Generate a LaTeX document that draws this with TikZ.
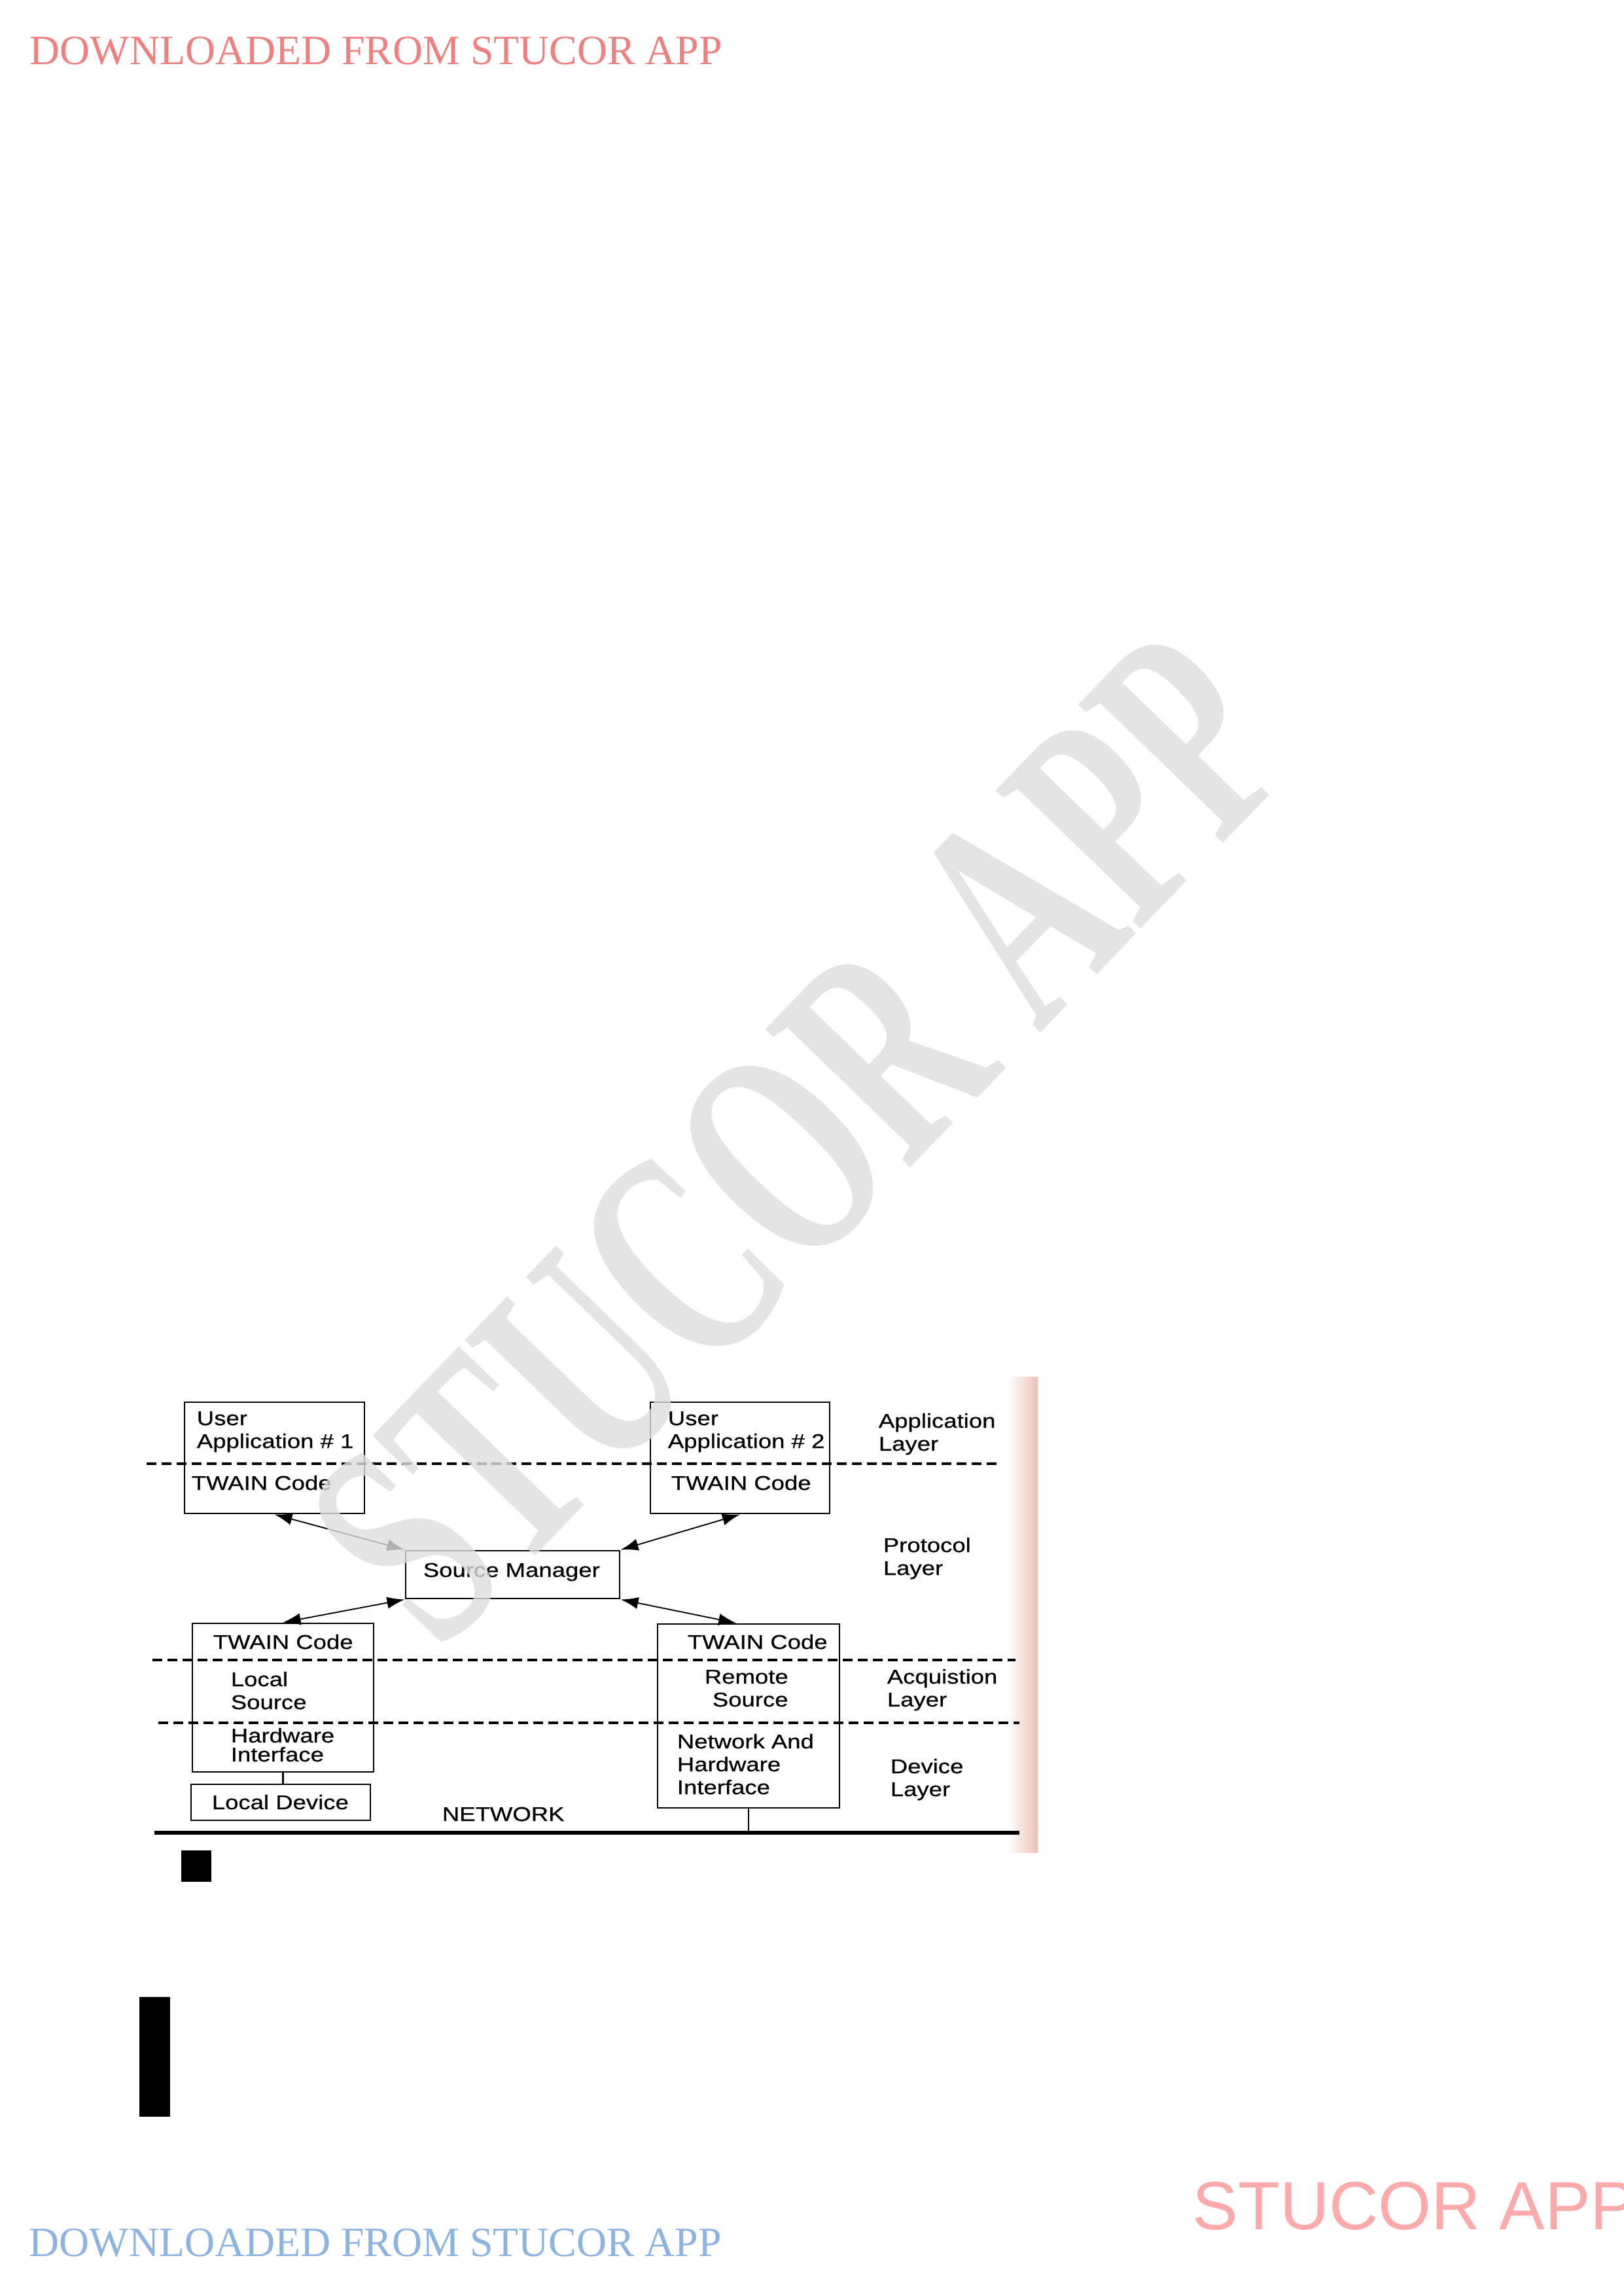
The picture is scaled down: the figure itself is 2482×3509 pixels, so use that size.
\documentclass[tikz,border=0pt]{standalone}
\usepackage{fontspec}
\setmainfont{Liberation Sans}
\newfontfamily\twfont{Liberation Sans}[FakeStretch=1.2,FakeBold=0.6]
\newfontfamily\hdfont{Liberation Serif}
\usetikzlibrary{arrows.meta,fit}
\definecolor{hdred}{RGB}{240,128,128}
\definecolor{hdblue}{RGB}{141,179,226}
\definecolor{brandpink}{RGB}{255,170,170}
\definecolor{stripe}{RGB}{236,192,182}

\begin{document}
\begin{tikzpicture}[x=0.23984pt,y=-0.23984pt,
    twbox/.style={draw,line width=0.7pt,inner sep=0pt},
    twtext/.style={anchor=base west,inner sep=0pt,font=\twfont\fontsize{7.3}{8.4}\selectfont},
    sepline/.style={line width=0.9pt,dash pattern=on 3.6pt off 1.9pt},
    twarrow/.style={{Latex[length=6.5pt,width=4.4pt]}-{Latex[length=6.5pt,width=4.4pt]},line width=0.45pt}]
    \useasboundingbox (0,0) rectangle (2482,3509);
    \fill[white] (0,0) rectangle (2482,3509);

    \node[anchor=base west,inner sep=0pt,font=\hdfont\fontsize{15.3}{18}\selectfont,text=hdred] (head) at (45,98) {DOWNLOADED FROM STUCOR APP};
    \node[anchor=base west,inner sep=0pt,font=\hdfont\fontsize{15.3}{18}\selectfont,text=hdblue] (foot) at (44,3448) {DOWNLOADED FROM STUCOR APP};
    \node[anchor=base west,inner sep=0pt,font=\fontsize{25}{30}\selectfont,text=brandpink] (brand) at (1822,3407) {STUCOR APP};

    \shade[left color=white,right color=stripe] (1540,2104) rectangle (1586,2831);

    \draw[sepline] (224,2237) -- (1530,2237);
    \draw[sepline] (233,2537) -- (1552,2537);
    \draw[sepline] (242,2633) -- (1558,2633);

    \node[twbox,fit={(282,2143) (557,2313)}] (app1) {};
    \node[twbox,fit={(994,2143) (1268,2313)}] (app2) {};
    \node[twbox,fit={(620,2370) (947,2443)}] (sm) {};
    \node[twbox,fit={(294,2481) (571,2708)}] (loc) {};
    \node[twbox,fit={(292,2727) (566,2782)}] (dev) {};
    \node[twbox,fit={(1005,2482) (1283,2763)}] (rem) {};

    \node[twtext] (app1a) at (300,2178) {User};
    \node[twtext] (app1b) at (300,2213) {Application \# 1};
    \node[twtext] (app1c) at (292,2277) {TWAIN Code};
    \node[twtext] (app2a) at (1020,2178) {User};
    \node[twtext] (app2b) at (1020,2213) {Application \# 2};
    \node[twtext] (app2c) at (1025,2277) {TWAIN Code};
    \node[twtext] (smtext) at (646,2410) {Source Manager};
    \node[twtext] (loca) at (325,2520) {TWAIN Code};
    \node[twtext] (locb) at (352,2577) {Local};
    \node[twtext] (locc) at (352,2612) {Source};
    \node[twtext] (locd) at (352,2663) {Hardware};
    \node[twtext] (loce) at (352,2692) {Interface};
    \node[twtext] (devtext) at (323,2765) {Local Device};
    \node[twtext] (rema) at (1050,2520) {TWAIN Code};
    \node[twtext] (remb) at (1076,2573) {Remote};
    \node[twtext] (remc) at (1088,2608) {Source};
    \node[twtext] (remd) at (1034,2672) {Network And};
    \node[twtext] (reme) at (1034,2707) {Hardware};
    \node[twtext] (remf) at (1034,2742) {Interface};
    \node[twtext] (nettext) at (675,2783) {NETWORK};

    \node[twtext] (lay1a) at (1342,2182) {Application};
    \node[twtext] (lay1b) at (1342,2217) {Layer};
    \node[twtext] (lay2a) at (1349,2372) {Protocol};
    \node[twtext] (lay2b) at (1349,2407) {Layer};
    \node[twtext] (lay3a) at (1355,2573) {Acquistion};
    \node[twtext] (lay3b) at (1355,2608) {Layer};
    \node[twtext] (lay4a) at (1360,2710) {Device};
    \node[twtext] (lay4b) at (1360,2745) {Layer};

    \draw[twarrow] (app1.south) -- (sm.north west);
    \draw[twarrow] (app2.south) -- (sm.north east);
    \draw[twarrow] (sm.south west) -- (loc.north);
    \draw[twarrow] (sm.south east) -- ([xshift=-4.5pt]rem.north);

    \coordinate (netL) at (236,2801);
    \coordinate (netR) at (1558,2801);
    \coordinate (tap) at (rem.south |- netL);
    \draw[line width=1.3pt] (netL) -- (netR);
    \draw[line width=0.5pt] (loc.south) -- (loc.south |- dev.north);
    \draw[line width=0.5pt] (rem.south) -- (tap);

    \fill[black] (277,2828) rectangle (323,2876);
    \fill[black] (213,3052) rectangle (260,3235);

    \node[rotate=46,xscale=0.64,inner sep=0pt,font=\hdfont\bfseries\fontsize{112}{112}\selectfont,text=gray!26,opacity=0.8] (mark) at (1222,1740) {STUCOR APP};
\end{tikzpicture}
\end{document}
